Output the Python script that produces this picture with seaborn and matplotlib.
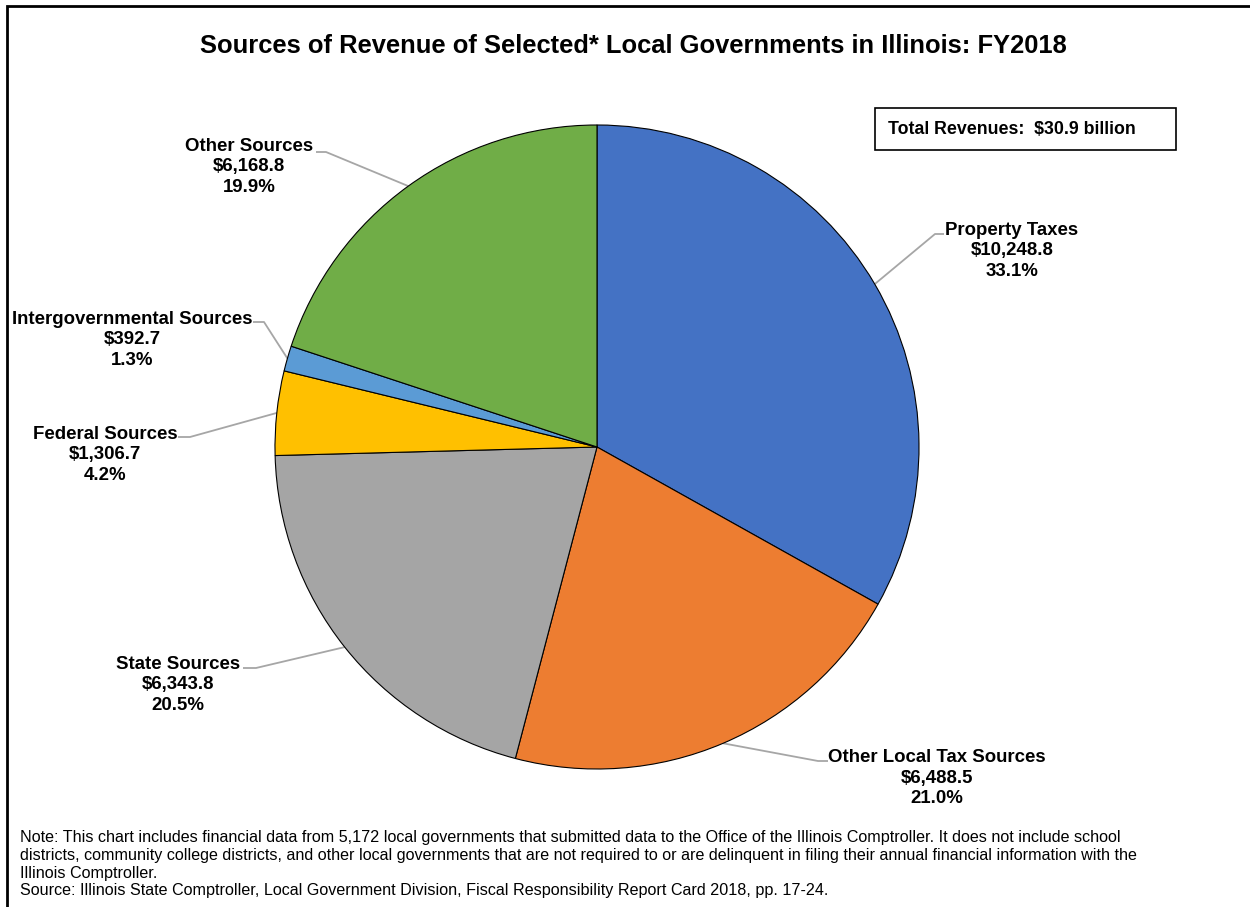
import matplotlib
matplotlib.use("Agg")
import matplotlib.pyplot as plt
from matplotlib.patches import Rectangle
import seaborn as sns
import numpy as np

# Data (millions of dollars)
categories = ["Property Taxes", "Other Local Tax Sources", "State Sources",
              "Federal Sources", "Intergovernmental Sources", "Other Sources"]
values = [10248.8, 6488.5, 6343.8, 1306.7, 392.7, 6168.8]
colors = ["#4472C4", "#ED7D31", "#A5A5A5", "#FFC000", "#5B9BD5", "#70AD47"]
total_text = "Total Revenues:  $30.9 billion"

title = "Sources of Revenue of Selected* Local Governments in Illinois: FY2018"
note = ("Note: This chart includes financial data from 5,172 local governments that submitted data to the Office of the Illinois Comptroller. It does not include school\n"
        "districts, community college districts, and other local governments that are not required to or are delinquent in filing their annual financial information with the\n"
        "Illinois Comptroller.\n"
        "Source: Illinois State Comptroller, Local Government Division, Fiscal Responsibility Report Card 2018, pp. 17-24.")

# layout in pixels (x, y from top)
W, H = 1250, 907
cx, cy, r = 597, 447, 322
# label center x, middle line y, leader elbow x, leader end x, leader y
label_pos = [
    (1012, 251, 935, 944, 234),
    (937, 778, 818, 828, 761),
    (178, 685, 256, 243, 668),
    (105, 455, 190, 178, 437),
    (132, 340, 264, 253, 322),
    (249, 167, 326, 316, 152),
]

sns.set_theme(style="white")
plt.rcParams["font.family"] = ["Liberation Sans", "DejaVu Sans"]
plt.rcParams["text.color"] = "black"

fig = plt.figure(figsize=(W / 100, H / 100), dpi=100)
ax = fig.add_axes([0, 0, 1, 1])

palette = sns.color_palette(colors)
wedges, _ = ax.pie(values, colors=palette, startangle=90, counterclock=False,
                   center=(cx, H - cy), radius=r,
                   wedgeprops=dict(edgecolor="black", linewidth=0.8))
ax.set_xlim(0, W)
ax.set_ylim(0, H)
ax.axis("off")

total = sum(values)
for w, name, val, pos in zip(wedges, categories, values, label_pos):
    lx, ly, ex, tx, lyy = pos
    mid = np.deg2rad((w.theta1 + w.theta2) / 2)
    ax_x = cx + r * np.cos(mid)
    ax_y = H - cy + r * np.sin(mid)
    ax.plot([ax_x, ex, tx], [ax_y, H - lyy, H - lyy], color="#A6A6A6", lw=1.3,
            solid_capstyle="butt", zorder=0.5)
    pct = val / total * 100
    ax.text(lx, H - ly, f"{name}\n${val:,.1f}\n{pct:.1f}%", ha="center", va="center",
            fontsize=13.4, fontweight="bold", linespacing=1.25)

ax.text(633, H - 46, title, ha="center", va="center", fontsize=18.4, fontweight="bold")

ax.add_patch(Rectangle((875, H - 150), 301, 42, fill=False, edgecolor="black", lw=1.2))
ax.text(888, H - 129, total_text, ha="left", va="center", fontsize=12.8, fontweight="bold")

ax.text(20, H - 830, note, ha="left", va="top", fontsize=11.6, linespacing=1.23)

fig.patches.append(Rectangle((7 / W, -0.02), 1.0, 1.02 - 6 / H, transform=fig.transFigure,
                             fill=False, edgecolor="black", lw=2))

fig.savefig("out.png", dpi=100)
